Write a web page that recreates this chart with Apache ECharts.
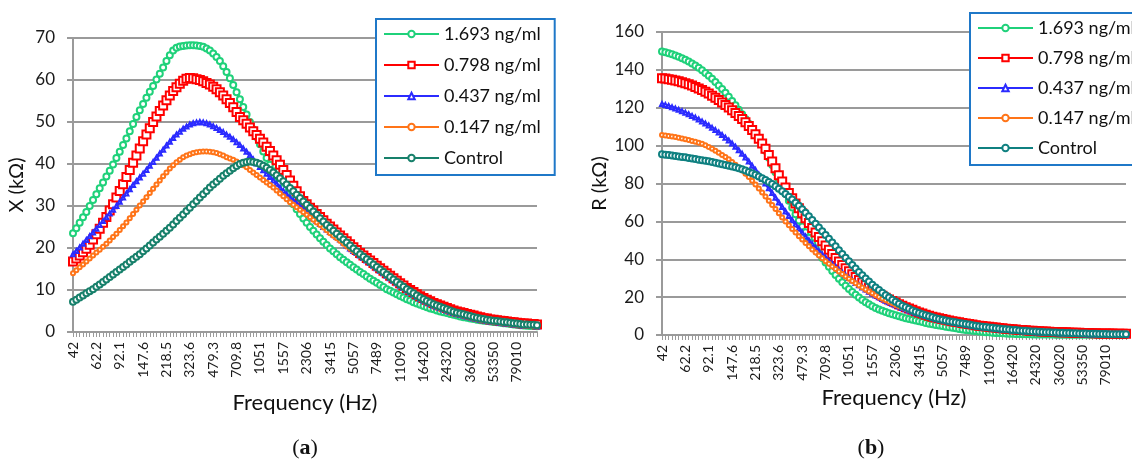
<!DOCTYPE html>
<html>
<head>
<meta charset="utf-8">
<script src="https://cdn.jsdelivr.net/npm/echarts@6.0.0/dist/echarts.min.js"></script>
<style>
  html, body { margin: 0; padding: 0; background: #fff; }
  #wrap { position: relative; width: 1132px; height: 461px; }
  #chartA { position: absolute; left: 0; top: 0; width: 566px; height: 461px; }
  #chartB { position: absolute; left: 566px; top: 0; width: 566px; height: 461px; }
</style>
</head>
<body>
<div id="wrap">
  <div id="chartA"></div>
  <div id="chartB"></div>
</div>
<script>
// ============================================================
// DATA
// One point per sweep step, tick label shown every 7th step
// ============================================================

const freqLabels = ['42', '62.2', '92.1', '147.6', '218.5', '323.6', '479.3', '709.8', '1051', '1557',
  '2306', '3415', '5057', '7489', '11090', '16420', '24320', '36020', '53350', '79010'];

const seriesNames = ['1.693 ng/ml', '0.798 ng/ml', '0.437 ng/ml', '0.147 ng/ml', 'Control'];

// (a) reactance X, kOhm
const xGreen = [
  23.5,24.7,26.0,27.3,28.6,30.0,31.4,32.8,34.2,35.6,
  37.0,38.4,39.9,41.4,42.9,44.5,46.1,47.8,49.5,51.2,
  52.8,54.3,55.8,57.2,58.6,60.1,61.5,63.0,64.5,65.9,
  67.0,67.7,68.0,68.1,68.2,68.3,68.3,68.2,68.1,67.9,
  67.5,67.0,66.3,65.5,64.5,63.3,61.9,60.4,58.8,57.1,
  55.4,53.6,51.8,50.0,48.2,46.4,44.7,43.0,41.4,39.8,
  38.3,36.9,35.5,34.2,32.9,31.6,30.4,29.2,28.1,27.0,
  26.0,25.0,24.1,23.2,22.3,21.5,20.7,19.9,19.2,18.5,
  17.8,17.2,16.6,16.0,15.4,14.9,14.3,13.8,13.2,12.7,
  12.2,11.7,11.2,10.7,10.2,9.8,9.4,9.0,8.6,8.2,
  7.8,7.5,7.1,6.8,6.5,6.2,5.9,5.6,5.4,5.1,
  4.9,4.7,4.5,4.3,4.1,3.9,3.7,3.5,3.4,3.2,
  3.1,2.9,2.8,2.7,2.6,2.5,2.4,2.3,2.2,2.1,
  2.0,1.9,1.8,1.7,1.6,1.55,1.5,1.45,1.4,1.35];

const xRed = [
  16.8,17.5,18.2,19.0,19.8,20.8,22.0,23.3,24.6,26.0,
  27.4,28.9,30.4,32.0,33.6,35.2,36.9,38.6,40.3,42.0,
  43.7,45.4,47.0,48.5,50.0,51.3,52.6,53.9,55.2,56.3,
  57.4,58.3,59.1,59.8,60.3,60.5,60.4,60.2,60.0,59.7,
  59.3,58.9,58.4,57.8,57.1,56.3,55.4,54.5,53.5,52.4,
  51.2,50.4,49.6,48.7,47.8,46.9,46.0,45.1,44.1,43.1,
  42.0,40.9,39.8,38.6,37.4,36.1,34.8,33.5,32.3,31.2,
  30.4,29.6,28.9,28.1,27.4,26.6,25.8,25.1,24.4,23.7,
  23.0,22.3,21.6,20.9,20.2,19.5,18.8,18.2,17.6,17.0,
  16.4,15.8,15.2,14.6,14.0,13.4,12.8,12.2,11.6,11.1,
  10.5,10.0,9.5,9.0,8.5,8.1,7.7,7.3,6.9,6.6,
  6.3,6.0,5.7,5.4,5.1,4.9,4.7,4.5,4.3,4.1,
  3.9,3.7,3.5,3.3,3.2,3.0,2.9,2.8,2.7,2.6,
  2.5,2.4,2.3,2.2,2.1,2.0,2.0,1.9,1.9,1.8];

const xBlue = [
  18.5,19.3,20.1,21.0,21.9,22.8,23.7,24.6,25.5,26.4,
  27.3,28.2,29.1,30.0,31.0,32.0,33.0,34.0,35.0,35.9,
  36.8,37.7,38.6,39.6,40.5,41.5,42.5,43.4,44.4,45.3,
  46.2,47.0,47.7,48.4,48.9,49.4,49.7,49.9,50.0,49.9,
  49.7,49.4,49.0,48.6,48.1,47.6,47.0,46.5,45.9,45.2,
  44.5,43.7,42.9,42.1,41.1,40.1,39.3,38.5,37.7,36.9,
  36.1,35.3,34.4,33.6,32.8,32.0,31.3,30.6,29.9,29.2,
  28.5,27.8,27.1,26.4,25.7,25.0,24.4,23.8,23.2,22.6,
  22.0,21.3,20.6,19.9,19.3,18.8,18.2,17.6,17.0,16.4,
  15.8,15.2,14.6,14.0,13.4,12.8,12.2,11.6,11.0,10.5,
  9.9,9.4,8.9,8.4,7.9,7.5,7.1,6.7,6.3,6.0,
  5.7,5.4,5.1,4.8,4.5,4.3,4.1,3.9,3.7,3.5,
  3.3,3.1,2.9,2.8,2.6,2.5,2.4,2.3,2.2,2.1,
  2.0,1.9,1.8,1.7,1.6,1.5,1.5,1.4,1.4,1.3];

const xOrange = [
  14.0,14.7,15.4,16.1,16.8,17.5,18.2,18.9,19.6,20.3,
  21.0,21.8,22.6,23.4,24.3,25.2,26.1,27.1,28.1,29.1,
  30.1,31.1,32.1,33.1,34.1,35.1,36.1,37.1,38.0,38.9,
  39.7,40.4,41.0,41.6,42.0,42.3,42.6,42.8,42.9,43.0,
  43.0,42.9,42.8,42.6,42.3,42.0,41.6,41.3,41.0,40.6,
  40.2,39.7,39.2,38.6,38.0,37.4,36.8,36.2,35.6,35.0,
  34.4,33.7,33.0,32.3,31.6,30.9,30.3,29.7,29.1,28.5,
  27.9,27.3,26.7,26.1,25.5,24.9,24.2,23.5,22.9,22.3,
  21.7,21.1,20.5,19.9,19.3,18.8,18.2,17.6,17.0,16.4,
  15.8,15.2,14.6,14.0,13.4,12.8,12.2,11.6,11.0,10.5,
  9.9,9.4,8.9,8.4,7.9,7.5,7.1,6.7,6.3,6.0,
  5.7,5.4,5.1,4.8,4.5,4.3,4.1,3.9,3.7,3.5,
  3.3,3.1,2.9,2.8,2.6,2.5,2.4,2.3,2.2,2.1,
  2.0,1.9,1.8,1.7,1.6,1.5,1.5,1.4,1.4,1.3];

const xControl = [
  7.2,7.7,8.2,8.7,9.2,9.7,10.2,10.8,11.3,11.9,
  12.5,13.1,13.7,14.3,14.9,15.5,16.1,16.7,17.3,17.9,
  18.5,19.2,19.9,20.6,21.3,22.0,22.7,23.4,24.1,24.8,
  25.6,26.4,27.2,28.0,28.8,29.6,30.4,31.2,32.0,32.8,
  33.6,34.4,35.1,35.8,36.5,37.2,37.8,38.4,39.0,39.5,
  40.0,40.3,40.5,40.6,40.5,40.3,40.0,39.6,39.1,38.6,
  38.0,37.3,36.6,35.9,35.1,34.3,33.5,32.7,31.9,31.1,
  30.3,29.5,28.7,27.9,27.1,26.3,25.5,24.8,24.1,23.4,
  22.7,22.0,21.3,20.6,19.9,19.2,18.5,17.9,17.3,16.7,
  16.1,15.5,14.9,14.3,13.7,13.1,12.5,11.9,11.3,10.8,
  10.2,9.7,9.2,8.7,8.2,7.8,7.4,7.0,6.6,6.3,
  6.0,5.7,5.4,5.1,4.8,4.6,4.4,4.2,4.0,3.8,
  3.6,3.4,3.2,3.1,2.9,2.8,2.7,2.6,2.5,2.4,
  2.3,2.2,2.1,2.0,1.9,1.8,1.8,1.7,1.7,1.6];

// (b) resistance R, kOhm
const rGreen = [
  149.7,149.3,148.8,148.2,147.6,146.9,146.1,145.3,144.4,143.4,
  142.3,141.1,139.8,138.4,136.9,135.3,133.6,131.8,129.9,127.9,
  125.8,123.6,121.3,119.0,116.6,114.1,111.5,108.8,106.0,103.4,
  100.8,97.3,93.6,89.8,86.0,82.2,78.4,74.6,70.9,67.3,
  63.8,60.5,57.3,54.2,51.3,48.5,45.8,43.2,40.7,38.3,
  36.0,33.8,31.7,29.7,27.8,26.0,24.3,22.7,21.2,19.8,
  18.5,17.3,16.2,15.2,14.3,13.5,12.8,12.1,11.5,10.9,
  10.4,9.9,9.4,8.9,8.4,8.0,7.6,7.2,6.8,6.4,
  6.0,5.7,5.3,5.0,4.7,4.4,4.1,3.8,3.5,3.2,
  2.9,2.7,2.5,2.3,2.1,1.9,1.7,1.5,1.4,1.2,
  1.1,1.0,0.9,0.8,0.7,0.6,0.55,0.5,0.45,0.4,
  0.35,0.3,0.3,0.25,0.25,0.2,0.2,0.2,0.15,0.15,
  0.15,0.1,0.1,0.1,0.1,0.1,0.1,0.1,0.1,0.1,
  0.1,0.1,0.1,0.1,0.1,0.1,0.1,0.1,0.1,0.1];

const rRed = [
  135.6,135.4,135.1,134.8,134.4,134.0,133.5,133.0,132.4,131.7,
  131.0,130.2,129.4,128.5,127.5,126.4,125.3,124.1,122.8,121.5,
  120.1,118.7,117.2,115.6,114.0,112.3,110.4,108.3,106.0,103.6,
  101.1,98.3,95.1,91.6,88.0,84.4,81.0,77.9,75.0,72.2,
  69.5,66.9,64.3,61.7,59.1,56.5,54.1,51.8,49.5,47.2,
  45.0,42.8,40.7,38.8,37.0,35.3,33.7,32.1,30.6,29.1,
  27.7,26.4,25.1,23.9,22.8,21.7,20.7,19.7,18.8,17.9,
  17.1,16.3,15.5,14.7,14.0,13.3,12.6,11.9,11.3,10.7,
  10.2,9.7,9.2,8.8,8.4,8.0,7.6,7.3,7.0,6.7,
  6.4,6.1,5.8,5.5,5.2,4.9,4.7,4.5,4.3,4.1,
  3.9,3.7,3.5,3.3,3.2,3.0,2.9,2.7,2.6,2.5,
  2.3,2.2,2.1,2.0,1.9,1.8,1.7,1.65,1.6,1.5,
  1.45,1.4,1.3,1.25,1.2,1.15,1.1,1.05,1.0,0.95,
  0.9,0.85,0.8,0.8,0.75,0.75,0.7,0.7,0.65,0.65];

const rBlue = [
  122.0,121.5,120.9,120.3,119.6,118.9,118.2,117.4,116.6,115.7,
  114.8,113.8,112.8,111.7,110.6,109.4,108.2,106.9,105.6,104.2,
  102.7,101.1,99.4,97.6,95.7,93.7,91.6,89.4,87.1,84.8,
  82.4,80.0,77.5,75.0,72.5,70.0,67.6,65.2,62.9,60.6,
  58.4,56.2,54.1,52.0,50.0,48.0,46.1,44.3,42.5,40.8,
  39.1,37.5,35.9,34.4,32.9,31.5,30.1,28.8,27.5,26.3,
  25.1,24.0,22.9,21.9,20.9,19.9,19.0,18.1,17.3,16.5,
  15.7,15.0,14.3,13.6,13.0,12.4,11.8,11.3,10.7,10.1,
  9.6,9.1,8.6,8.2,7.8,7.4,7.0,6.7,6.4,6.1,
  5.8,5.5,5.2,4.9,4.6,4.3,4.1,3.9,3.7,3.5,
  3.3,3.1,2.9,2.7,2.6,2.4,2.3,2.1,2.0,1.9,
  1.7,1.6,1.5,1.4,1.3,1.2,1.1,1.05,1.0,0.9,
  0.85,0.8,0.7,0.65,0.6,0.55,0.5,0.45,0.4,0.35,
  0.3,0.25,0.2,0.2,0.15,0.15,0.1,0.1,0.05,0.05];

const rOrange = [
  105.6,105.4,105.1,104.8,104.5,104.2,103.8,103.4,103.0,102.5,
  102.0,101.5,101.0,100.2,99.3,98.3,97.3,96.2,95.1,94.0,
  92.8,91.4,89.9,88.4,86.8,85.1,83.4,81.5,79.5,77.4,
  75.3,73.1,70.9,68.7,66.5,64.3,62.1,60.0,58.0,56.0,
  54.1,52.2,50.4,48.6,46.9,45.2,43.6,42.0,40.5,39.0,
  37.6,36.2,34.8,33.5,32.2,30.9,29.7,28.5,27.3,26.2,
  25.1,24.0,23.0,22.0,21.0,20.1,19.2,18.3,17.5,16.7,
  15.9,15.2,14.5,13.8,13.2,12.6,12.0,11.4,10.9,10.3,
  9.6,9.1,8.6,8.2,7.8,7.4,7.0,6.7,6.4,6.1,
  5.8,5.5,5.2,4.9,4.6,4.3,4.1,3.9,3.7,3.5,
  3.3,3.1,2.9,2.7,2.6,2.4,2.3,2.1,2.0,1.9,
  1.7,1.6,1.5,1.4,1.3,1.2,1.1,1.05,1.0,0.9,
  0.85,0.8,0.7,0.65,0.6,0.55,0.5,0.45,0.4,0.35,
  0.3,0.25,0.2,0.2,0.15,0.15,0.1,0.1,0.05,0.05];

const rControl = [
  95.4,95.2,95.0,94.8,94.5,94.3,94.0,93.8,93.5,93.2,
  92.9,92.6,92.3,92.0,91.7,91.3,91.0,90.6,90.2,89.8,
  89.4,89.0,88.6,88.1,87.5,86.8,86.1,85.4,84.6,83.7,
  82.8,81.8,80.8,79.7,78.5,77.2,75.9,74.5,73.0,71.5,
  69.9,68.2,66.4,64.6,62.7,60.7,58.8,56.8,54.8,52.8,
  50.8,48.8,46.8,44.8,42.8,40.8,38.9,37.0,35.1,33.3,
  31.5,29.8,28.2,26.6,25.1,23.7,22.3,21.0,19.8,18.6,
  17.5,16.5,15.5,14.6,13.8,13.0,12.3,11.6,11.0,10.4,
  9.9,9.4,8.9,8.5,8.1,7.7,7.3,7.0,6.7,6.4,
  6.1,5.8,5.5,5.2,4.9,4.6,4.4,4.2,4.0,3.8,
  3.6,3.4,3.2,3.0,2.9,2.7,2.6,2.4,2.3,2.2,
  2.0,1.9,1.8,1.7,1.6,1.5,1.4,1.35,1.3,1.2,
  1.15,1.1,1.0,0.95,0.9,0.85,0.8,0.75,0.7,0.65,
  0.6,0.55,0.5,0.5,0.45,0.45,0.4,0.4,0.35,0.35];


// ============================================================
// SHARED STYLE BITS
// ============================================================

const FONT = 'Lato';
const GRID_GRAY = '#9a9a9a';

// one category per sweep step; label text comes from freqLabels
const stepIndex = xGreen.map(function(v, i) { return String(i); });

function makeSeries(name, data, color, symbol, size, border) {
  return {
    name: name,
    type: 'line',
    data: data,
    symbol: symbol,
    symbolSize: size,
    showSymbol: true,
    showAllSymbol: true,
    animation: false,
    lineStyle: { color: color, width: 3 },
    itemStyle: { color: color, borderColor: color, borderWidth: border },
    emphasis: { disabled: true }
  };
}

function buildOption(cfg) {
  return {
    animation: false,
    title: {
      text: '{p|(}{b|' + cfg.tag + '}{p|)}',
      left: 300, top: 432,
      textAlign: 'center',
      textStyle: {
        rich: {
          p: { fontFamily: 'Liberation Serif', fontSize: 22, fontWeight: 'normal', color: '#111' },
          b: { fontFamily: 'Liberation Serif', fontSize: 22, fontWeight: 'bold', color: '#111' }
        }
      }
    },
    legend: {
      data: seriesNames,
      orient: 'vertical',
      left: cfg.legendLeft,
      top: cfg.legendTop,
      backgroundColor: '#fff',
      borderColor: '#1f78c8',
      borderWidth: 2,
      borderRadius: 0,
      padding: [5, 14, 7, 7],
      itemWidth: 55,
      itemHeight: 8,
      itemGap: cfg.legendGap,
      selectedMode: false,
      textStyle: { fontFamily: FONT, fontSize: 18, color: '#111', lineHeight: 20 }
    },
    grid: {
      left: cfg.gridLeft, top: cfg.gridTop, width: 464, height: cfg.gridHeight,
      outerBoundsMode: 'none'
    },
    xAxis: {
      type: 'category',
      data: stepIndex,
      boundaryGap: false,
      name: 'Frequency (Hz)',
      nameLocation: 'middle',
      nameGap: cfg.xNameGap,
      nameMoveOverlap: false,
      nameTextStyle: { fontFamily: FONT, fontSize: 22, color: '#111' },
      axisLine: { show: true, lineStyle: { color: GRID_GRAY, width: 2 } },
      axisTick: { show: true, interval: 0, length: 5, lineStyle: { color: GRID_GRAY, width: 1 } },
      axisLabel: {
        interval: 6,
        rotate: 90,
        margin: 10,
        fontFamily: FONT,
        fontSize: 14,
        color: '#1a1a1a',
        formatter: function(val, idx) {
          return idx % 7 === 0 ? (freqLabels[idx / 7] || '') : '';
        }
      },
      splitLine: { show: false }
    },
    yAxis: {
      type: 'value',
      min: 0, max: cfg.yMax, interval: cfg.yStep,
      name: cfg.yName,
      nameLocation: 'middle',
      nameGap: cfg.yNameGap,
      nameRotate: 90,
      nameMoveOverlap: false,
      nameTextStyle: { fontFamily: FONT, fontSize: 20, color: '#111' },
      axisLine: { show: true, lineStyle: { color: GRID_GRAY, width: 2 } },
      axisTick: { show: true, length: 6, lineStyle: { color: GRID_GRAY, width: 2 } },
      axisLabel: { fontFamily: FONT, fontSize: 17, color: '#1a1a1a', margin: 18 },
      splitLine: { show: true, lineStyle: { color: GRID_GRAY, width: 2 } }
    },
    series: [
      makeSeries(seriesNames[0], cfg.data[0], '#1fd17a', 'emptyCircle', 6, 1.6),
      makeSeries(seriesNames[1], cfg.data[1], '#ff0000', 'emptyRect', 8, 2),
      makeSeries(seriesNames[2], cfg.data[2], '#2b2bff', 'emptyTriangle', 4, 1.5),
      makeSeries(seriesNames[3], cfg.data[3], '#ff7418', 'emptyCircle', 4, 1.5),
      makeSeries(seriesNames[4], cfg.data[4], cfg.controlColor, 'emptyCircle', 6, 1.8)
    ]
  };
}


// ============================================================
// (a) X vs frequency
// ============================================================

const chartA = echarts.init(document.getElementById('chartA'));
chartA.setOption(buildOption({
  tag: 'a',
  gridLeft: 73, gridTop: 38, gridHeight: 294,
  legendLeft: 376, legendTop: 19, legendGap: 11,
  xNameGap: 60,
  yMax: 70, yStep: 10, yName: 'X (kΩ)', yNameGap: 46,
  controlColor: '#17806b',
  data: [xGreen, xRed, xBlue, xOrange, xControl]
}));


// ============================================================
// (b) R vs frequency
// ============================================================

const chartB = echarts.init(document.getElementById('chartB'));
chartB.setOption(buildOption({
  tag: 'b',
  gridLeft: 96, gridTop: 32, gridHeight: 303,
  legendLeft: 404, legendTop: 13, legendGap: 10,
  xNameGap: 52,
  yMax: 160, yStep: 20, yName: 'R (kΩ)', yNameGap: 52,
  controlColor: '#0f8080',
  data: [rGreen, rRed, rBlue, rOrange, rControl]
}));
</script>
</body>
</html>
